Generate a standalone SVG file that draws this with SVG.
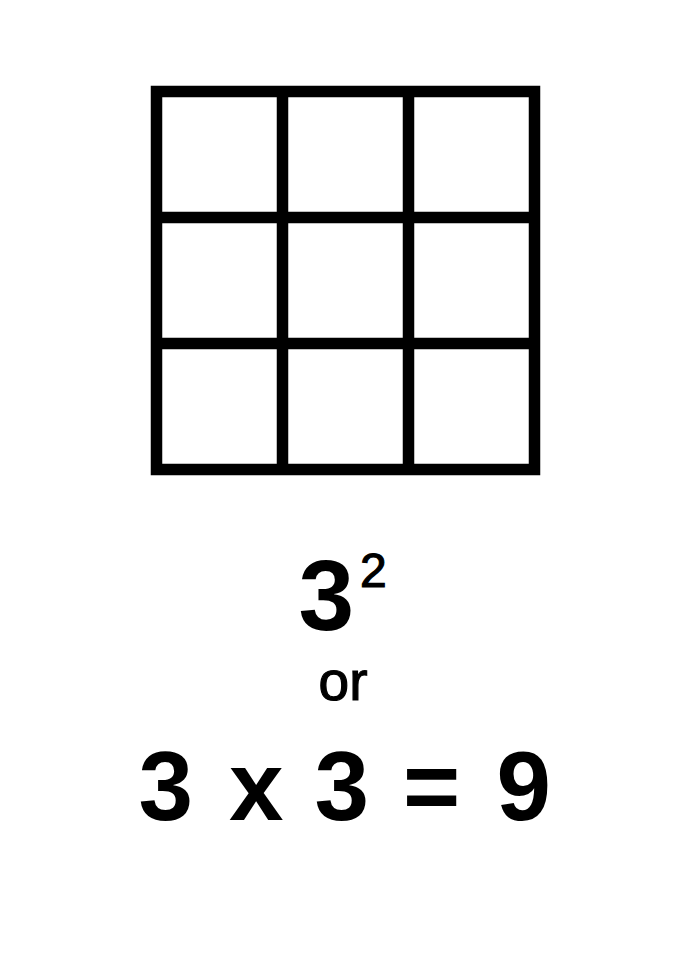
<svg xmlns="http://www.w3.org/2000/svg" width="700" height="963" viewBox="0 0 700 963">
<style>
.g{fill:none;stroke:#000;stroke-width:11.5}
.b{font-family:"Liberation Sans",Arial,sans-serif;font-weight:bold;fill:#000}
.r{font-family:"Liberation Sans",Arial,sans-serif;fill:#000;stroke:#000;stroke-width:1.2}
</style>
<rect width="700" height="963" fill="#fff"/>
<g id="grid">
<rect class="g" x="156.5" y="91.5" width="378" height="378"/>
<line class="g" x1="282.5" y1="91.5" x2="282.5" y2="469.5"/>
<line class="g" x1="408.5" y1="91.5" x2="408.5" y2="469.5"/>
<line class="g" x1="156.5" y1="217.5" x2="534.5" y2="217.5"/>
<line class="g" x1="156.5" y1="343.5" x2="534.5" y2="343.5"/>
</g>
<g id="labels">
<text class="b" x="298.5" y="630" font-size="100">3</text>
<text class="r" x="360" y="587" font-size="48">2</text>
<text class="r" x="343" y="700" font-size="55" text-anchor="middle">or</text>
<text class="b" y="820" font-size="98"><tspan x="138.5">3</tspan><tspan x="229">x</tspan><tspan x="314.5">3</tspan><tspan x="403">=</tspan><tspan x="496.5">9</tspan></text>
</g>
</svg>
